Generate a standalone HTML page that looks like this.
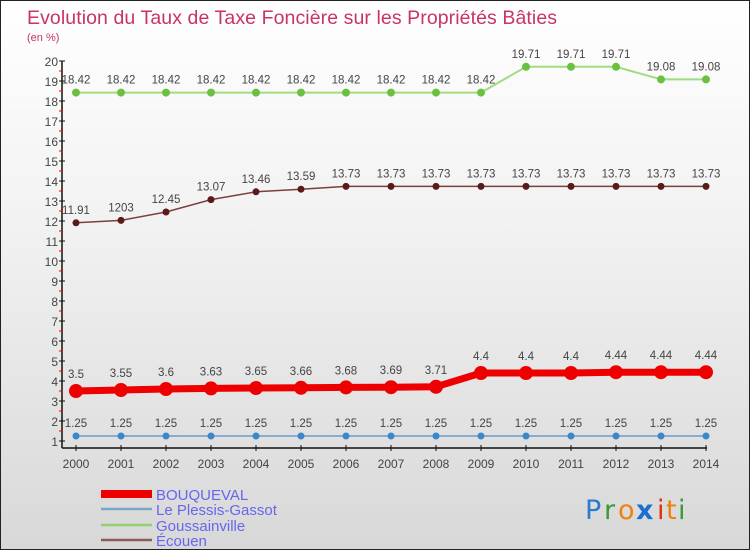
<!DOCTYPE html>
<html><head><meta charset="utf-8"><style>
body{margin:0;}
#wrap{width:748px;height:548px;border:1px solid #222;position:relative;background:linear-gradient(#fff 0%,#f2f2f2 40%,#d8d8d8 100%);overflow:hidden;font-family:"Liberation Sans",sans-serif;}
</style></head><body>
<div id="wrap">
<svg id="svg" width="748" height="548" xmlns="http://www.w3.org/2000/svg">
<text x="26" y="23" font-size="19.5" fill="#c8336a" textLength="530">Evolution du Taux de Taxe Foncière sur les Propriétés Bâties</text>
<text x="26" y="40" font-size="11" fill="#c8336a">(en %)</text>
<g id="axes"></g><g id="series"></g>
<g>
<line x1="100" y1="493" x2="151" y2="493" stroke="#e00" stroke-width="8"/>
<text x="155" y="499" font-size="15" fill="#6666ee">BOUQUEVAL</text>
<line x1="100" y1="508" x2="151" y2="508" stroke="#7aa6cc" stroke-width="2.5"/>
<text x="155" y="514" font-size="15" fill="#6666ee">Le Plessis-Gassot</text>
<line x1="100" y1="524" x2="151" y2="524" stroke="#90d070" stroke-width="2.5"/>
<text x="155" y="530" font-size="15" fill="#6666ee">Goussainville</text>
<line x1="100" y1="539" x2="151" y2="539" stroke="#8b5a5a" stroke-width="2.5"/>
<text x="155" y="545" font-size="15" fill="#6666ee">Écouen</text>
</g>
<g font-size="27" font-family="'DejaVu Sans',sans-serif">
<text x="584" y="518" fill="#2a7ad0">P</text><text x="603" y="518" fill="#3a9a3a">r</text><text x="617" y="518" fill="#f08010">o</text><text x="635" y="518" fill="#1a70d0" font-weight="bold">x</text><text x="656" y="518" fill="#e03010">i</text><text x="665" y="518" fill="#f08010">t</text><text x="677" y="518" fill="#3a9a3a">i</text>
</g>
</svg>
</div>
<script>
const years=[2000,2001,2002,2003,2004,2005,2006,2007,2008,2009,2010,2011,2012,2013,2014];
const bouqueval=[3.5,3.55,3.6,3.63,3.65,3.66,3.68,3.69,3.71,4.4,4.4,4.4,4.44,4.44,4.44];
const plessis=[1.25,1.25,1.25,1.25,1.25,1.25,1.25,1.25,1.25,1.25,1.25,1.25,1.25,1.25,1.25];
const goussainville=[18.42,18.42,18.42,18.42,18.42,18.42,18.42,18.42,18.42,18.42,19.71,19.71,19.71,19.08,19.08];
const ecouen=[11.91,12.03,12.45,13.07,13.46,13.59,13.73,13.73,13.73,13.73,13.73,13.73,13.73,13.73,13.73];
const ecouenLabels=["11.91","1203","12.45","13.07","13.46","13.59","13.73","13.73","13.73","13.73","13.73","13.73","13.73","13.73","13.73"];
const yTicks=[1,2,3,4,5,6,7,8,9,10,11,12,13,14,15,16,17,18,19,20];
const NS="http://www.w3.org/2000/svg";
const X=i=>75+i*45;
const Y=v=>440-(v-1)*20;
function mk(t,a,p){const e=document.createElementNS(NS,t);for(const k in a)e.setAttribute(k,a[k]);p.appendChild(e);return e;}
const ax=document.getElementById('axes');
let l=mk('line',{x1:61,y1:60,x2:61,y2:447,stroke:'#111','stroke-width':1.5},ax);


l=mk('line',{x1:61,y1:447,x2:706,y2:447,stroke:'#111','stroke-width':1.5},ax);


yTicks.forEach(v=>{
 mk('line',{x1:58,y1:Y(v),x2:64,y2:Y(v),stroke:'#111'},ax);
 if(v<20)mk('line',{x1:58,y1:Y(v+0.5),x2:62,y2:Y(v+0.5),stroke:'#e00'},ax);
 const t=mk('text',{x:57,y:Y(v)+5,'font-size':12,fill:'#444','text-anchor':'end'},ax);t.textContent=v;
 
 
});
years.forEach((yr,i)=>{
 mk('line',{x1:X(i),y1:444,x2:X(i),y2:450,stroke:'#111'},ax);
 const t=mk('text',{x:X(i),y:467,'font-size':12,fill:'#444','text-anchor':'middle'},ax);t.textContent=yr;
 
 
});
const sg=document.getElementById('series');
function series(name,vals,color,w,r,labels,dy){
 const g=mk('g',{},sg);
 
 
 const pl=mk('polyline',{points:vals.map((v,i)=>X(i)+','+Y(v)).join(' '),fill:'none',stroke:color.line,'stroke-width':w},g);
 
 
 vals.forEach((v,i)=>{
  const c=mk('circle',{cx:X(i),cy:Y(v),r:r,fill:color.pt},g);
  
  
  const t=mk('text',{x:X(i),y:Y(v)-dy,'font-size':11.5,fill:'#444','text-anchor':'middle'},g);
  t.textContent=labels?labels[i]:String(v);
  
  
 });
}
series('goussainville',goussainville,{line:'#a0dc80',pt:'#6cc040'},2,4,null,9);
series('ecouen',ecouen,{line:'#7a4040',pt:'#5a1a1a'},1.5,3.5,ecouenLabels,9);
series('le-plessis-gassot',plessis,{line:'#6a9cc8',pt:'#3a88c8'},1.5,3.5,null,9);
series('bouqueval',bouqueval,{line:'#e00',pt:'#e00'},7,7,null,13);
</script>
</body></html>
